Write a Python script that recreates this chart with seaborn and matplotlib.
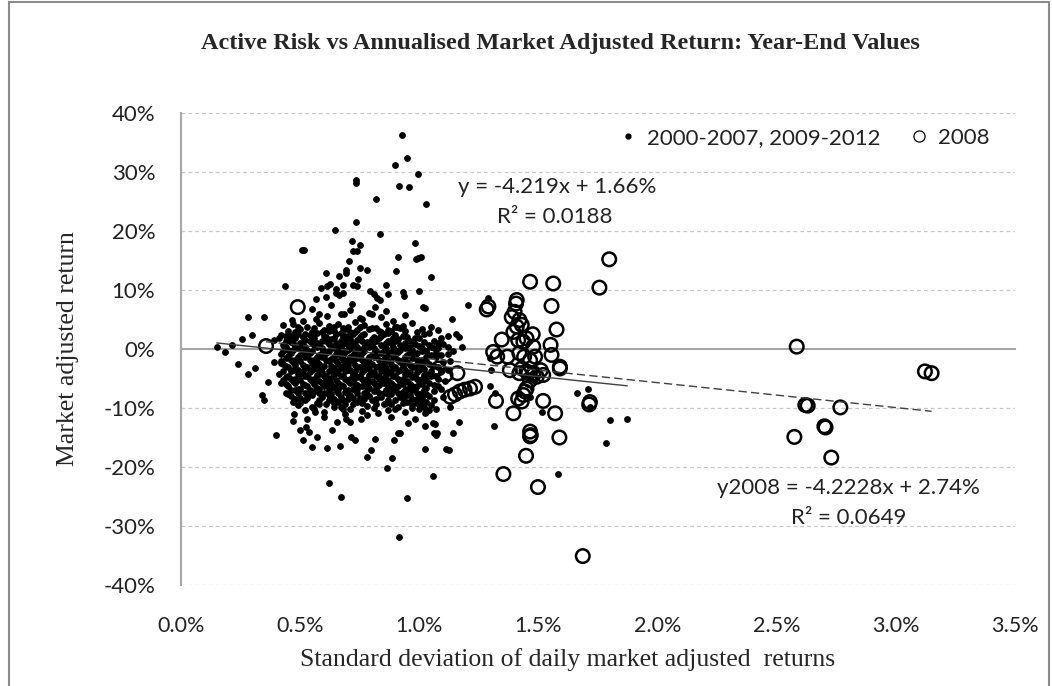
import matplotlib
matplotlib.use("Agg")
import matplotlib.pyplot as plt
import seaborn as sns
import pandas as pd
import numpy as np
from matplotlib.lines import Line2D
from matplotlib.patches import Rectangle
from matplotlib.ticker import FuncFormatter, FixedLocator

# ---- data (x = std dev of daily returns in %, y = market adjusted return in %) ----
x_ticks = [0.0, 0.5, 1.0, 1.5, 2.0, 2.5, 3.0, 3.5]
y_ticks = [-40, -30, -20, -10, 0, 10, 20, 30, 40]

# 2000-2007, 2009-2012: scattered points above the main cloud
upper_pts = [
    (0.926, 36.2), (0.948, 32.3), (0.899, 31.2), (0.996, 29.7), (0.916, 27.7), (0.955, 27.5),
    (0.736, 28.2), (0.736, 28.6), (1.027, 24.5), (0.82, 25.4), (0.736, 21.5), (0.836, 19.5),
    (0.648, 20.1), (0.983, 18.0), (0.719, 18.3), (0.75, 17.7), (0.72, 16.6), (0.74, 16.6),
    (0.506, 16.8), (0.515, 16.8), (0.912, 15.6), (0.995, 15.5), (0.986, 15.3), (1.007, 15.6),
    (0.704, 15.0), (0.752, 13.7), (0.78, 13.4), (0.903, 13.3), (0.61, 12.9), (0.692, 13.4),
    (0.692, 12.8), (0.664, 12.3), (1.049, 12.2), (0.744, 11.8), (0.436, 10.6), (0.589, 10.3),
    (0.611, 10.7), (0.625, 11.0), (0.65, 10.1), (0.681, 10.8), (0.72, 10.8), (0.74, 10.6),
    (0.86, 10.8), (0.793, 9.9), (0.809, 9.3), (0.824, 8.7), (0.835, 8.3), (1.0, 9.9),
    (0.869, 9.4), (0.933, 9.7), (0.936, 9.0), (0.565, 8.5), (0.608, 8.8), (0.664, 9.1),
    (0.681, 9.5), (0.649, 9.5), (0.716, 7.7), (0.813, 7.2), (1.017, 7.2), (1.022, 7.0),
    (1.203, 7.4), (1.29, 8.7), (0.28, 5.5), (0.35, 5.4), (0.94, 5.8), (1.136, 5.1),
    (0.467, 5.0), (0.513, 4.8), (0.567, 5.1), (0.611, 5.6), (0.67, 6.0), (0.685, 5.9),
    (0.79, 6.1), (0.80, 5.9), (0.75, 5.3), (0.76, 5.1), (0.89, 4.8), (0.905, 3.8),
    (0.87, 3.3), (0.299, 2.3), (0.256, 1.7), (0.43, 4.1), (0.42, 2.4), (0.44, 2.2),
    (0.41, 1.9), (0.39, 1.6), (1.153, 2.5), (1.167, 2.1), (1.18, 0.4), (0.15, 0.3),
    (0.183, -0.5), (0.214, 0.6), (0.24, -2.5), (0.28, -4.2), (0.31, -3.2), (0.39, -2.2),
    (0.42, -2.3), (1.297, -1.6), (1.30, -3.6), (1.01, 0.2), (1.03, -0.3), (1.05, 0.3),
    (0.55, 6.8), (0.63, 7.4), (0.71, 6.6), (0.86, 6.4), (0.58, 6.0), (0.84, 5.4),
]

# main cloud
cloud_pts = [
    (0.47, 4.3), (0.53, 3.8), (0.58, 4.4), (0.62, 3.9), (0.66, 4.2), (0.70, 3.7), (0.73, 4.5),
    (0.77, 4.0), (0.82, 3.6), (0.86, 4.3), (0.93, 3.9), (0.97, 4.4), (1.05, 3.8),
    (0.45, 3.0), (0.50, 3.4), (0.55, 2.9), (0.60, 3.3), (0.64, 3.0), (0.68, 3.5), (0.71, 2.8),
    (0.74, 3.2), (0.79, 3.4), (0.84, 2.9), (0.88, 3.1), (0.92, 3.5), (0.99, 2.8), (1.08, 3.2),
    (0.46, 2.2), (0.49, 2.6), (0.54, 2.3), (0.57, 2.7), (0.61, 2.1), (0.65, 2.5), (0.69, 2.2),
    (0.72, 2.6), (0.76, 2.3), (0.81, 2.1), (0.85, 2.6), (0.90, 2.3), (0.95, 2.0), (1.02, 2.5),
    (1.12, 2.2),
    (0.44, 1.4), (0.48, 1.8), (0.52, 1.5), (0.56, 1.9), (0.59, 1.3), (0.63, 1.7), (0.67, 1.4),
    (0.70, 1.9), (0.74, 1.5), (0.78, 1.2), (0.83, 1.8), (0.87, 1.4), (0.91, 1.7), (0.96, 1.3),
    (1.00, 1.8), (1.06, 1.4),
    (0.43, 0.6), (0.47, 1.0), (0.51, 0.7), (0.55, 1.1), (0.58, 0.5), (0.62, 0.9), (0.66, 0.6),
    (0.69, 1.0), (0.73, 0.7), (0.77, 0.4), (0.80, 0.9), (0.84, 0.6), (0.88, 1.0), (0.93, 0.5),
    (0.98, 0.8), (1.04, 0.6), (1.10, 0.9),
    (0.45, -0.2), (0.49, 0.2), (0.53, -0.1), (0.57, 0.3), (0.60, -0.3), (0.64, 0.1), (0.68, -0.2),
    (0.71, 0.2), (0.75, -0.1), (0.79, 0.3), (0.82, -0.3), (0.86, 0.1), (0.90, -0.2), (0.94, 0.2),
    (0.97, -0.1), (1.03, -0.4), (1.08, 0.1), (1.14, -0.3),
    (0.42, -0.9), (0.46, -0.6), (0.50, -1.0), (0.54, -0.7), (0.58, -1.1), (0.61, -0.6), (0.65, -0.9),
    (0.69, -0.5), (0.72, -1.0), (0.76, -0.7), (0.80, -1.1), (0.84, -0.6), (0.87, -0.9), (0.91, -0.5),
    (0.95, -1.0), (0.99, -0.7), (1.05, -1.1), (1.12, -0.8),
    (0.44, -1.5), (0.48, -1.9), (0.52, -1.4), (0.56, -1.8), (0.59, -1.3), (0.63, -1.7), (0.67, -1.4),
    (0.70, -1.9), (0.74, -1.5), (0.78, -1.8), (0.81, -1.3), (0.85, -1.7), (0.89, -1.4), (0.93, -1.9),
    (0.97, -1.5), (1.01, -1.8), (1.07, -1.4),
    (0.43, -2.6), (0.47, -2.2), (0.51, -2.7), (0.55, -2.3), (0.58, -2.6), (0.62, -2.1), (0.66, -2.5),
    (0.69, -2.2), (0.73, -2.7), (0.77, -2.3), (0.80, -2.5), (0.84, -2.1), (0.88, -2.6), (0.92, -2.2),
    (0.96, -2.7), (1.00, -2.3), (1.04, -2.6), (1.10, -2.2),
    (0.45, -3.1), (0.49, -3.5), (0.53, -3.0), (0.57, -3.4), (0.60, -2.9), (0.64, -3.3), (0.68, -3.0),
    (0.71, -3.5), (0.75, -3.1), (0.79, -3.4), (0.83, -2.9), (0.86, -3.3), (0.90, -3.0), (0.94, -3.5),
    (0.98, -3.1), (1.02, -3.4), (1.06, -2.9),
    (0.41, -4.2), (0.46, -3.8), (0.50, -4.3), (0.54, -3.9), (0.58, -4.2), (0.62, -3.7), (0.65, -4.1),
    (0.69, -3.8), (0.72, -4.3), (0.76, -3.9), (0.80, -4.2), (0.84, -3.7), (0.87, -4.1), (0.91, -3.8),
    (0.95, -4.3), (0.99, -3.9), (1.03, -4.2), (1.09, -3.8),
    (0.44, -4.7), (0.48, -5.1), (0.52, -4.6), (0.56, -5.0), (0.60, -4.5), (0.63, -4.9), (0.67, -4.6),
    (0.71, -5.1), (0.74, -4.7), (0.78, -5.0), (0.82, -4.5), (0.85, -4.9), (0.89, -4.6), (0.93, -5.1),
    (0.97, -4.7), (1.01, -5.0), (1.05, -4.5),
    (0.42, -5.8), (0.47, -5.4), (0.51, -5.9), (0.55, -5.5), (0.59, -5.8), (0.62, -5.3), (0.66, -5.7),
    (0.70, -5.4), (0.73, -5.9), (0.77, -5.5), (0.81, -5.8), (0.84, -5.3), (0.88, -5.7), (0.92, -5.4),
    (0.96, -5.9), (1.00, -5.5), (1.04, -5.8), (1.11, -5.4),
    (0.45, -6.3), (0.49, -6.7), (0.53, -6.2), (0.57, -6.6), (0.61, -6.1), (0.64, -6.5), (0.68, -6.2),
    (0.72, -6.7), (0.76, -6.3), (0.79, -6.6), (0.83, -6.1), (0.87, -6.5), (0.91, -6.2), (0.95, -6.7),
    (0.99, -6.3), (1.03, -6.6), (1.08, -6.2),
    (0.44, -7.4), (0.48, -7.0), (0.52, -7.5), (0.56, -7.1), (0.60, -7.4), (0.65, -6.9), (0.69, -7.3),
    (0.73, -7.0), (0.77, -7.5), (0.81, -7.1), (0.85, -7.4), (0.89, -6.9), (0.93, -7.3), (0.97, -7.0),
    (1.01, -7.5), (1.06, -7.1),
    (0.46, -7.9), (0.50, -8.3), (0.55, -7.8), (0.59, -8.2), (0.63, -7.7), (0.67, -8.1), (0.71, -7.8),
    (0.75, -8.3), (0.79, -7.9), (0.84, -8.2), (0.88, -7.7), (0.92, -8.1), (0.96, -7.8), (1.00, -8.3),
    (1.04, -7.9), (1.10, -8.2),
    (0.47, -9.0), (0.52, -8.6), (0.57, -9.1), (0.62, -8.7), (0.66, -9.0), (0.70, -8.5), (0.74, -8.9),
    (0.80, -8.6), (0.86, -9.1), (0.90, -8.7), (0.95, -9.0), (0.99, -8.5), (1.03, -8.9),
    (0.49, -9.5), (0.55, -9.9), (0.61, -9.4), (0.67, -9.8), (0.72, -9.3), (0.78, -9.7), (0.85, -9.4),
    (0.91, -9.9), (0.97, -9.5), (1.02, -9.8),
    (0.52, -10.3), (0.60, -10.6), (0.68, -10.2), (0.76, -10.5), (0.87, -10.3), (0.94, -10.6),
    (1.00, -10.2),
]

# more points filling the gaps of the main cloud
cloud_fill_pts = [
    (0.49, 3.7), (0.56, 3.5), (0.64, 3.8), (0.69, 3.4), (0.75, 3.7), (0.80, 3.5), (0.90, 3.8),
    (1.01, 3.4),
    (0.48, 2.9), (0.52, 2.6), (0.59, 2.8), (0.62, 3.1), (0.67, 2.7), (0.73, 2.9), (0.77, 2.6),
    (0.83, 3.0), (0.87, 2.7), (0.94, 3.0), (1.04, 2.7),
    (0.45, 1.9), (0.51, 2.1), (0.55, 1.8), (0.60, 2.2), (0.64, 1.9), (0.68, 2.1), (0.71, 1.7),
    (0.75, 2.0), (0.80, 1.7), (0.84, 2.2), (0.89, 1.9), (0.93, 2.2), (0.98, 1.8), (1.09, 1.9),
    (0.46, 1.2), (0.50, 1.0), (0.54, 1.4), (0.57, 1.1), (0.61, 1.3), (0.65, 1.0), (0.68, 1.3),
    (0.72, 1.1), (0.76, 1.4), (0.79, 1.0), (0.82, 1.3), (0.86, 1.1), (0.90, 1.3), (0.94, 1.0),
    (1.02, 1.2), (1.08, 1.1),
    (0.44, 0.3), (0.48, 0.5), (0.52, 0.3), (0.56, 0.6), (0.59, 0.2), (0.63, 0.5), (0.67, 0.3),
    (0.70, 0.6), (0.74, 0.3), (0.78, 0.5), (0.81, 0.2), (0.85, 0.5), (0.89, 0.3), (0.92, 0.6),
    (0.96, 0.3), (1.00, 0.5), (1.06, 0.2), (1.12, 0.4),
    (0.43, -0.4), (0.47, -0.2), (0.51, -0.5), (0.55, -0.3), (0.59, -0.6), (0.62, -0.3), (0.66, -0.5),
    (0.70, -0.2), (0.73, -0.5), (0.77, -0.3), (0.81, -0.6), (0.85, -0.3), (0.88, -0.5), (0.92, -0.2),
    (0.96, -0.5), (1.01, -0.3), (1.07, -0.6),
    (0.45, -1.2), (0.49, -1.4), (0.53, -1.1), (0.57, -1.3), (0.60, -1.0), (0.64, -1.3), (0.68, -1.1),
    (0.71, -1.4), (0.75, -1.2), (0.79, -1.4), (0.82, -1.0), (0.86, -1.3), (0.90, -1.1), (0.94, -1.4),
    (0.98, -1.2), (1.03, -1.4), (1.09, -1.1),
    (0.42, -2.0), (0.46, -1.8), (0.50, -2.1), (0.54, -1.9), (0.57, -2.2), (0.61, -1.9), (0.65, -2.1),
    (0.68, -1.8), (0.72, -2.1), (0.76, -1.9), (0.79, -2.2), (0.83, -1.8), (0.87, -2.1), (0.91, -1.9),
    (0.95, -2.2), (0.99, -1.9), (1.03, -2.1), (1.13, -2.0),
    (0.44, -2.9), (0.48, -2.7), (0.52, -3.0), (0.56, -2.8), (0.59, -3.1), (0.63, -2.8), (0.67, -3.0),
    (0.70, -2.7), (0.74, -3.0), (0.78, -2.8), (0.82, -3.1), (0.85, -2.7), (0.89, -3.0), (0.93, -2.8),
    (0.97, -3.1), (1.01, -2.8), (1.08, -3.0),
    (0.43, -3.7), (0.47, -3.5), (0.51, -3.8), (0.55, -3.6), (0.59, -3.9), (0.63, -3.6), (0.66, -3.8),
    (0.70, -3.5), (0.73, -3.8), (0.77, -3.6), (0.81, -3.9), (0.85, -3.5), (0.88, -3.8), (0.92, -3.6),
    (0.96, -3.9), (1.00, -3.6), (1.05, -3.8), (1.12, -3.5),
    (0.45, -4.5), (0.49, -4.3), (0.53, -4.6), (0.57, -4.4), (0.61, -4.6), (0.64, -4.3), (0.68, -4.5),
    (0.72, -4.3), (0.75, -4.6), (0.79, -4.4), (0.83, -4.6), (0.86, -4.3), (0.90, -4.5), (0.94, -4.3),
    (0.98, -4.6), (1.02, -4.4), (1.07, -4.6),
    (0.43, -5.2), (0.46, -5.0), (0.50, -5.3), (0.54, -5.1), (0.58, -5.4), (0.61, -5.1), (0.65, -5.3),
    (0.69, -5.0), (0.72, -5.3), (0.76, -5.1), (0.80, -5.4), (0.83, -5.0), (0.87, -5.3), (0.91, -5.1),
    (0.95, -5.4), (0.99, -5.1), (1.03, -5.3), (1.08, -5.0),
    (0.44, -6.0), (0.48, -5.8), (0.52, -6.1), (0.56, -5.9), (0.60, -6.2), (0.63, -5.9), (0.67, -6.1),
    (0.71, -5.8), (0.74, -6.1), (0.78, -5.9), (0.82, -6.2), (0.85, -5.8), (0.89, -6.1), (0.93, -5.9),
    (0.97, -6.2), (1.01, -5.9), (1.06, -6.1),
    (0.46, -6.9), (0.50, -6.7), (0.54, -7.0), (0.58, -6.8), (0.62, -7.0), (0.66, -6.7), (0.70, -6.9),
    (0.74, -6.7), (0.78, -7.0), (0.82, -6.8), (0.86, -7.0), (0.90, -6.7), (0.94, -6.9), (0.98, -6.7),
    (1.02, -7.0), (1.09, -6.8),
    (0.45, -7.7), (0.49, -7.5), (0.54, -7.7), (0.58, -7.5), (0.62, -7.8), (0.66, -7.5), (0.70, -7.7),
    (0.74, -7.5), (0.78, -7.8), (0.83, -7.5), (0.87, -7.7), (0.91, -7.5), (0.95, -7.8), (0.99, -7.5),
    (1.03, -7.7),
    (0.48, -8.5), (0.53, -8.3), (0.58, -8.6), (0.64, -8.4), (0.68, -8.6), (0.72, -8.3), (0.77, -8.5),
    (0.82, -8.4), (0.87, -8.6), (0.93, -8.3), (0.97, -8.5), (1.01, -8.3), (1.06, -8.6),
    (0.50, -9.2), (0.58, -9.4), (0.64, -9.2), (0.69, -9.4), (0.76, -9.2), (0.82, -9.3), (0.88, -9.4),
    (0.93, -9.2), (1.00, -9.3), (1.05, -9.5),
    (0.56, -10.1), (0.64, -9.9), (0.71, -10.1), (0.81, -10.0), (0.90, -10.1), (0.97, -10.0),
    (1.04, -10.3),
]

# scattered points below the main cloud
lower_pts = [
    (0.364, -5.6), (0.34, -7.8), (0.35, -8.6), (0.397, -14.5), (0.473, -11.1), (0.498, -13.8),
    (0.512, -15.4), (0.523, -13.2), (0.538, -14.0), (0.551, -16.6), (0.569, -14.9), (0.561, -10.7),
    (0.53, -11.8), (0.613, -16.7), (0.635, -13.8), (0.666, -16.5), (0.622, -22.7), (0.67, -25.0),
    (0.655, -12.4), (0.692, -11.8), (0.69, -11.1), (0.709, -12.4), (0.715, -14.9), (0.73, -15.4),
    (0.754, -11.9), (0.78, -18.3), (0.797, -17.2), (0.814, -15.3), (0.863, -20.1), (0.885, -18.4),
    (0.895, -15.4), (0.91, -14.3), (0.92, -14.3), (0.916, -31.9), (0.947, -25.2), (0.828, -10.8),
    (0.951, -12.6), (1.024, -13.1), (1.024, -17.0), (1.059, -21.6), (1.066, -12.7), (1.06, -14.2),
    (1.07, -14.5), (1.111, -16.9), (1.125, -17.2), (1.143, -14.2), (1.168, -12.4), (1.13, -9.8),
    (1.027, -10.7), (1.07, -10.1), (0.99, -9.2), (1.017, -9.2), (1.024, -10.9), (1.059, -12.6),
    (1.073, -14.3), (1.297, -6.3), (1.314, -13.1), (1.318, -7.5), (1.465, -8.1), (1.514, -10.6),
    (1.581, -21.2), (1.663, -7.5), (1.709, -6.8), (1.716, -9.8), (1.80, -12.0), (1.873, -11.9),
    (1.785, -15.9), (0.60, -11.6), (0.78, -11.2), (0.88, -11.5), (0.98, -11.8), (0.47, -12.2),
]

# 2008
pts_2008 = [
    (0.49, 7.1), (0.357, 0.5), (1.08, -3.3), (1.11, -4.4), (1.16, -4.1), (1.13, -8.1),
    (1.15, -7.7), (1.17, -7.2), (1.19, -6.9), (1.213, -6.7), (1.234, -6.4),
    (1.797, 15.2), (1.465, 11.4), (1.562, 11.1), (1.756, 10.4), (1.409, 8.3), (1.406, 7.7),
    (1.29, 7.2), (1.283, 6.7), (1.555, 7.3), (1.40, 6.3), (1.388, 5.4), (1.42, 4.9),
    (1.43, 4.1), (1.409, 3.8), (1.395, 2.9), (1.476, 2.5), (1.576, 3.3), (1.346, 1.6),
    (1.415, 1.5), (1.437, 1.2), (1.45, 1.8), (1.478, 0.4), (1.551, 0.7), (1.555, -1.0),
    (1.31, -0.5), (1.327, -1.3), (1.37, -1.3), (1.42, -0.7), (1.44, -1.3), (1.465, -1.9),
    (1.486, -1.3), (1.38, -3.6), (1.43, -3.3), (1.45, -3.8), (1.48, -4.1), (1.51, -3.6),
    (1.52, -4.4), (1.59, -3.0), (1.59, -3.3), (1.42, -4.1), (1.457, -4.1), (1.478, -4.4),
    (1.493, -4.7), (1.465, -5.3), (1.322, -8.8), (1.395, -10.9), (1.415, -8.4), (1.437, -7.8),
    (1.43, -8.9), (1.444, -7.2), (1.45, -6.7), (1.52, -8.8), (1.57, -10.9), (1.465, -14.0),
    (1.468, -14.6), (1.465, -14.8), (1.588, -15.0), (1.448, -18.1), (1.353, -21.2),
    (1.498, -23.4), (1.716, -9.0), (1.713, -9.4), (1.686, -35.1),
    (2.584, 0.4), (3.122, -3.8), (3.15, -4.1), (2.62, -9.5), (2.63, -9.6), (2.767, -9.9),
    (2.70, -13.1), (2.705, -13.3), (2.574, -14.9), (2.729, -18.4),
]

# trendline coefficients shown on the chart (slope, intercept in %)
trend_other = (-4.219, 1.66)
trend_2008 = (-4.2228, 2.74)

df_other = pd.DataFrame(upper_pts + cloud_pts + cloud_fill_pts + lower_pts,
                        columns=["sd", "ret"])
df_2008 = pd.DataFrame(pts_2008, columns=["sd", "ret"])

# ---- plotting ----
sns.set_style("white")
plt.rcParams['font.family'] = ['Lato', 'DejaVu Sans']

fig = plt.figure(figsize=(10.52, 6.86), dpi=100)
ax = fig.add_axes([181 / 1052, 1 - 585 / 686, (1015 - 181) / 1052, (585 - 113) / 686])

grid_c = "#c8c8c8"
axis_c = "#a6a6a6"

for v in y_ticks:
    if v != 0:
        ax.axhline(v, color=grid_c, lw=0.9, ls=(0, (3, 2.5)), zorder=0)

sns.scatterplot(data=df_other, x="sd", y="ret", color="black", s=24, linewidth=0,
                ax=ax, zorder=3, legend=False)
sns.scatterplot(data=df_2008, x="sd", y="ret", color="black", facecolors="none",
                edgecolor="black", s=95, linewidth=1.8, ax=ax, zorder=4, legend=False)

# trend lines from the stated equations over each series' range
xo = np.array([df_other["sd"].min(), df_other["sd"].max()])
ax.plot(xo, trend_other[0] * xo + trend_other[1], color="#404040", lw=1.0, zorder=5)
x8 = np.array([df_2008["sd"].min(), df_2008["sd"].max()])
ax.plot(x8, trend_2008[0] * x8 + trend_2008[1], color="#404040", lw=1.0,
        ls=(0, (6, 3)), zorder=5)

ax.set_xlim(0, 3.5)
ax.set_ylim(-40, 40)
ax.xaxis.set_major_locator(FixedLocator(x_ticks))
ax.yaxis.set_major_locator(FixedLocator(y_ticks))
ax.yaxis.set_major_formatter(FuncFormatter(lambda v, p: f"{v:.0f}%"))

for s in ["top", "right"]:
    ax.spines[s].set_visible(False)
ax.spines["left"].set_color(axis_c)
ax.spines["left"].set_linewidth(1.5)
ax.spines["bottom"].set_position(("data", 0))
ax.spines["bottom"].set_color(axis_c)
ax.spines["bottom"].set_linewidth(1.5)
ax.spines["bottom"].set_zorder(1)

ax.tick_params(axis="x", direction="out", length=6, width=1.2, color=axis_c,
               labelbottom=False)
ax.tick_params(axis="y", direction="out", length=6.5, width=1.2, color=axis_c,
               pad=12, labelsize=16, labelcolor="#222222")
ax.set_xlabel("")
ax.set_ylabel("")

sec = ax.secondary_xaxis("bottom")
sec.xaxis.set_major_locator(FixedLocator(x_ticks))
sec.xaxis.set_major_formatter(FuncFormatter(lambda v, p: f"{v:.1f}%"))
sec.tick_params(length=0, pad=22, labelsize=15.5, labelcolor="#222222")
sec.spines["bottom"].set_visible(False)

# equations
ax.text(1.577, 27.4, "y = -4.219x + 1.66%", ha="center", va="center", fontsize=16,
        color="#222222")
ax.text(1.57, 22.3, "R² = 0.0188", ha="center", va="center", fontsize=16, color="#222222")
ax.text(2.80, -23.6, "y2008 = -4.2228x + 2.74%", ha="center", va="center", fontsize=16,
        color="#222222")
ax.text(2.80, -28.7, "R² = 0.0649", ha="center", va="center", fontsize=16, color="#222222")

# legend
handles = [
    Line2D([], [], marker="o", ls="", color="black", markersize=3.5),
    Line2D([], [], marker="o", ls="", markerfacecolor="none", markeredgecolor="black",
           markersize=8, markeredgewidth=0.9),
]
fig.legend(handles, ["2000-2007, 2009-2012", "2008"], ncol=2, frameon=False,
           loc="center left", bbox_to_anchor=(600 / 1052, 1 - 138 / 686),
           fontsize=16, handlelength=0.7, handletextpad=0.5, columnspacing=1.4,
           labelcolor="#222222")

# titles
serif = ["Liberation Serif", "DejaVu Serif"]
fig.text(560 / 1052, 1 - 44 / 686,
         "Active Risk vs Annualised Market Adjusted Return: Year-End Values",
         ha="center", va="center", fontsize=17.5, fontweight="bold", family=serif)
fig.text(568 / 1052, 1 - 660 / 686, "Standard deviation of daily market adjusted  returns",
         ha="center", va="center", fontsize=18.5, family=serif)
fig.text(68 / 1052, 1 - 349 / 686, "Market adjusted return", ha="center", va="center",
         rotation=90, fontsize=18.5, family=serif)

# chart frame
fig.patches.append(Rectangle((9 / 1052, -0.02), 1040 / 1052, 1.0 - 2 / 686 + 0.02,
                             transform=fig.transFigure, fill=False, ec="#8c8c8c", lw=1.5))

fig.savefig("out.png", dpi=100)
